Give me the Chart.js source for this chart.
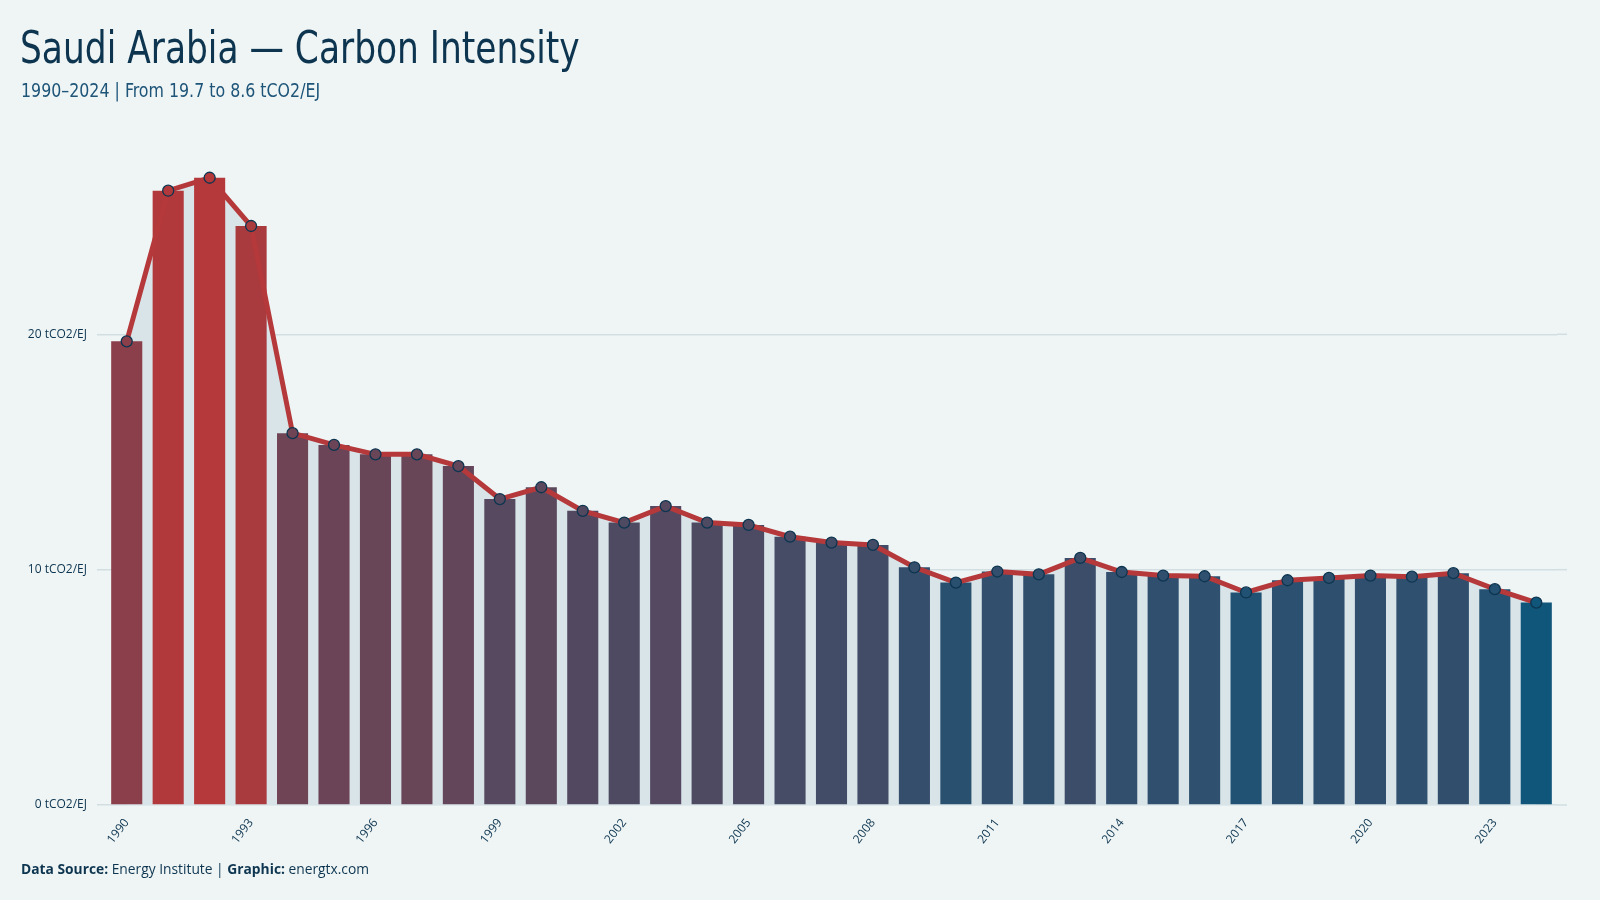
<!DOCTYPE html>
<html>
<head>
<meta charset="utf-8">
<script src="https://cdn.jsdelivr.net/npm/chart.js@4.4.1/dist/chart.umd.min.js"></script>
<style>
  html, body { margin: 0; padding: 0; background: #eff5f5; }
  body { width: 1600px; height: 900px; position: relative; overflow: hidden; }
  #wrap { position: absolute; left: 0; top: 0; width: 1600px; height: 900px; }
  .title { position: absolute; left: 20px; top: 26px; font-family: "Liberation Sans Narrow", "DejaVu Sans Condensed", sans-serif;
           font-size: 44px; line-height: 1; color: #0d3550; white-space: nowrap;
           transform: scaleX(0.87); transform-origin: left top; }
  .subtitle { position: absolute; left: 21px; top: 80px; font-family: "Liberation Sans Narrow", "DejaVu Sans Condensed", sans-serif;
           font-size: 20px; line-height: 1; color: #1d5478; white-space: nowrap;
           transform: scaleX(0.88); transform-origin: left top; }
  .footer { position: absolute; left: 21px; top: 862px; font-family: "Open Sans", sans-serif; font-size: 13.8px;
           line-height: 1; color: #0d3550; white-space: nowrap; }
  .footer b { font-weight: 700; }
</style>
</head>
<body>
<div id="wrap"><canvas id="chartIntensity"></canvas></div>
<div class="title">Saudi Arabia — Carbon Intensity</div>
<div class="subtitle">1990–2024 | From 19.7 to 8.6 tCO2/EJ</div>
<div class="footer"><b>Data Source:</b> Energy Institute | <b>Graphic:</b> energtx.com</div>
<script>
let years = [];
for (let y = 1990; y <= 2024; y++) years.push(String(y));

// tCO2/EJ
let intensity = [19.7, 26.1, 26.65, 24.6, 15.8, 15.3, 14.9, 14.9, 14.4, 13.0,
                 13.5, 12.5, 12.0, 12.7, 12.0, 11.9, 11.4, 11.15, 11.05, 10.1,
                 9.45, 9.92, 9.8, 10.5, 9.9, 9.75, 9.72, 9.03, 9.55, 9.65,
                 9.75, 9.7, 9.85, 9.17, 8.6];

let yTicks = [0, 10, 20];

const red = [181, 56, 58];
const blue = [16, 85, 122];

let minV = Math.min(...intensity);
let maxV = Math.max(...intensity);

function barColor(v) {
    let t = Math.pow((v - minV) / (maxV - minV), 0.6);
    let c = blue.map((b, i) => Math.round(b + (red[i] - b) * t));
    return 'rgb(' + c.join(',') + ')';
}
let colors = intensity.map(barColor);

Chart.defaults.font.family = '"Open Sans", sans-serif';
Chart.defaults.color = '#0d3550';

// prolonge les lignes de grille un peu à droite, comme dans l'original
const gridExtend = {
    id: 'gridExtend',
    beforeDatasetsDraw(chart) {
        const y = chart.scales.y;
        const c = chart.ctx;
        c.save();
        c.strokeStyle = '#d2dee1';
        c.lineWidth = 1.5;
        yTicks.forEach(v => {
            const py = y.getPixelForValue(v);
            c.beginPath();
            c.moveTo(chart.chartArea.right, py);
            c.lineTo(chart.chartArea.right + 10, py);
            c.stroke();
        });
        c.restore();
    }
};

let ctx = document.getElementById('chartIntensity');
let myChart = new Chart(ctx, {
    type: 'bar',
    data: {
        labels: years,
        datasets: [{
            type: 'line',
            data: intensity,
            order: 0,
            borderColor: '#b5393b',
            borderWidth: 5,
            fill: 'origin',
            backgroundColor: '#d8e4e8',
            tension: 0,
            pointRadius: 5.5,
            pointBackgroundColor: colors,
            pointBorderColor: '#0d3550',
            pointBorderWidth: 1.3
        }, {
            type: 'bar',
            data: intensity,
            order: 1,
            backgroundColor: colors,
            barPercentage: 0.75,
            categoryPercentage: 1
        }]
    },
    plugins: [gridExtend],
    options: {
        responsive: true,
        maintainAspectRatio: false,
        animation: false,
        layout: { padding: { left: 0, right: 43, top: 146, bottom: 0 } },
        plugins: {
            legend: { display: false },
            tooltip: { enabled: false },
            filler: { drawTime: 'beforeDatasetsDraw' }
        },
        scales: {
            x: {
                offset: true,
                grid: { display: false },
                border: { display: false },
                ticks: {
                    autoSkip: false,
                    maxRotation: 52,
                    minRotation: 52,
                    padding: 3,
                    font: { size: 12 },
                    callback: function(value, index) {
                        return index % 3 === 0 ? years[index] : '';
                    }
                },
                afterFit: function(scale) { scale.height = 95; }
            },
            y: {
                min: 0,
                max: 28,
                grid: { color: '#d2dee1', lineWidth: 1.5, tickLength: 9, drawTicks: true },
                border: { display: false },
                ticks: {
                    padding: 10,
                    font: { size: 12 },
                    callback: function(value) { return value + ' tCO2/EJ'; }
                },
                afterBuildTicks: function(scale) {
                    scale.ticks = yTicks.map(v => ({ value: v }));
                },
                afterFit: function(scale) { scale.width = 106; }
            }
        }
    }
});
</script>
</body>
</html>
